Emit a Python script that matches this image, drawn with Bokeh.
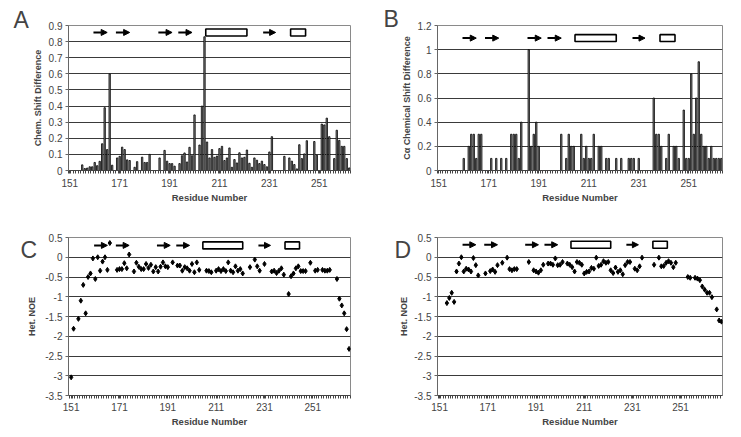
from bokeh.plotting import figure
from bokeh.models import Range1d, FixedTicker, Arrow, NormalHead, ColumnDataSource
from bokeh.layouts import gridplot
from bokeh.embed import file_html
from bokeh.resources import INLINE

# ---------------- data ----------------
x_ticks = [151, 171, 191, 211, 231, 251]
x_tick_labels = {151: "151", 171: "171", 191: "191", 211: "211", 231: "231", 251: "251"}

# Panel A: chemical shift difference (bars)
a_res = [156, 157, 158, 159, 160, 161, 162, 163, 164, 165, 166, 167, 168,
         170, 171, 172, 173, 174, 175, 177, 178, 180, 181, 182, 183,
         187, 189, 190, 191, 192, 193, 195, 196, 197, 198, 199, 200, 201,
         203, 204, 205, 206, 207, 208, 209, 210, 211, 212, 213, 214, 215,
         216, 217, 218, 219, 220, 221, 222, 223, 224, 225, 226, 227, 228,
         229, 230, 231, 232, 237, 239, 240, 241, 242, 243, 244, 245, 246,
         249, 250, 252, 253, 254, 255, 257, 258, 259, 260, 261, 262, 263]
a_val = [0.035, 0.012, 0.015, 0.023, 0.023, 0.05, 0.03, 0.057, 0.166, 0.39, 0.13, 0.6, 0.033,
         0.078, 0.088, 0.145, 0.13, 0.066, 0.062, 0.02, 0.055, 0.083, 0.05, 0.05, 0.1,
         0.078, 0.125, 0.058, 0.043, 0.043, 0.027, 0.043, 0.092, 0.109, 0.053, 0.144, 0.092, 0.345,
         0.158, 0.4, 0.83, 0.177, 0.078, 0.13, 0.082, 0.09, 0.136, 0.15, 0.062, 0.078, 0.14,
         0.02, 0.068, 0.047, 0.11, 0.078, 0.082, 0.127, 0.045, 0.02, 0.078, 0.064, 0.043, 0.058,
         0.037, 0.023, 0.115, 0.21, 0.088, 0.078, 0.058, 0.037, 0.01, 0.16, 0.074, 0.103, 0.185,
         0.18, 0.095, 0.288, 0.283, 0.325, 0.21, 0.074, 0.25, 0.187, 0.15, 0.15, 0.074, 0.016]

# Panel B: C-alpha chemical shift difference (bars)
b_res = [161, 163, 164, 165, 166, 167, 168, 172, 174, 176, 178, 180, 181, 182, 183, 184,
         187, 188, 189, 190, 191, 200, 202, 203, 204, 205, 208, 209, 210, 211, 212, 213,
         215, 216, 218, 219, 222, 224, 227, 228, 229, 231, 237, 238, 239, 240, 242, 243,
         245, 246, 247, 249, 250, 251, 252, 253, 254, 255, 256, 257, 258, 259, 260, 261,
         262, 263, 264]
b_val = [0.1, 0.2, 0.3, 0.3, 0.1, 0.3, 0.3, 0.1, 0.1, 0.1, 0.1, 0.3, 0.3, 0.3, 0.1, 0.4,
         1.0, 0.2, 0.3, 0.4, 0.2, 0.3, 0.1, 0.3, 0.2, 0.2, 0.3, 0.1, 0.2, 0.1, 0.1, 0.3,
         0.2, 0.2, 0.1, 0.1, 0.1, 0.1, 0.1, 0.1, 0.1, 0.1, 0.6, 0.3, 0.3, 0.2, 0.1, 0.3,
         0.2, 0.2, 0.1, 0.5, 0.1, 0.1, 0.8, 0.3, 0.6, 0.9, 0.3, 0.2, 0.2, 0.1, 0.2, 0.1,
         0.1, 0.1, 0.1]

# Panel C: heteronuclear NOE
c_res = [151, 152, 154, 155, 156, 157, 158, 159, 160, 161, 162, 163, 164, 165, 166, 167,
         170, 171, 172, 173, 174, 175, 177, 178, 179, 180, 181, 182, 183, 184, 185, 186,
         187, 188, 189, 190, 191, 193, 195, 196, 197, 198, 199, 200, 201, 202, 203, 204,
         207, 208, 209, 211, 212, 213, 214, 215, 216, 217, 218, 219, 220, 221, 222, 225,
         227, 228, 229, 231, 234, 235, 236, 237, 238, 239, 241, 242, 243, 244, 245, 246,
         247, 248, 250, 252, 253, 255, 256, 257, 258, 261, 262, 263, 264, 265, 266]
c_val = [-3.04, -1.81, -1.56, -1.10, -0.70, -1.42, -0.50, -0.41, -0.03, -0.55, 0.0, -0.34, -0.11, 0.0, -0.32, 0.36,
         -0.32, -0.30, -0.30, -0.15, -0.28, 0.07, -0.36, -0.14, -0.24, -0.30, -0.30, -0.17, -0.27, -0.19, -0.36, -0.25,
         -0.36, -0.24, -0.13, -0.23, -0.25, -0.13, -0.21, -0.21, -0.34, -0.25, -0.28, -0.34, -0.17, -0.38, -0.13, -0.32,
         -0.34, -0.35, -0.38, -0.34, -0.30, -0.35, -0.30, -0.35, -0.13, -0.34, -0.38, -0.23, -0.34, -0.30, -0.41, -0.25,
         -0.06, -0.23, -0.34, -0.17, -0.36, -0.34, -0.40, -0.34, -0.28, -0.44, -0.93, -0.48, -0.41, -0.28, -0.23, -0.35,
         -0.35, -0.35, -0.14, -0.34, -0.32, -0.32, -0.34, -0.34, -0.32, -0.55, -1.05, -1.22, -1.42, -1.82, -2.32]

# Panel D: heteronuclear NOE
d_res = [154, 155, 156, 157, 158, 159, 160, 161, 162, 163, 164, 165, 166, 167, 170, 172,
         173, 174, 175, 177, 179, 180, 181, 182, 183, 188, 190, 191, 192, 193, 194, 196,
         197, 198, 199, 200, 201, 202, 204, 205, 206, 207, 208, 209, 210, 211, 212, 213,
         214, 215, 216, 217, 218, 219, 220, 221, 222, 223, 224, 225, 226, 227, 228, 229,
         230, 232, 233, 234, 235, 240, 242, 243, 244, 245, 246, 247, 248, 249, 254, 255,
         257, 258, 259, 260, 261, 262, 263, 264, 266, 267, 268]
d_val = [-1.16, -1.03, -0.90, -1.13, -0.36, -0.16, 0.0, -0.36, -0.29, -0.31, -0.36, -0.02, -0.20, -0.46, -0.41, -0.35,
         -0.31, -0.37, -0.20, -0.14, -0.01, -0.30, -0.33, -0.30, -0.30, -0.12, -0.33, -0.36, -0.39, -0.33, -0.19, -0.16,
         -0.16, -0.19, -0.03, -0.20, -0.19, -0.12, -0.16, -0.19, -0.25, -0.36, -0.12, -0.14, -0.19, -0.41, -0.37, -0.36,
         -0.27, -0.29, -0.01, -0.22, -0.19, -0.10, -0.14, -0.12, -0.33, -0.40, -0.26, -0.37, -0.33, -0.43, -0.20, -0.12,
         -0.12, -0.29, -0.33, -0.23, -0.01, -0.19, -0.01, -0.23, -0.22, -0.14, -0.10, -0.14, -0.25, -0.14, -0.50, -0.52,
         -0.52, -0.54, -0.58, -0.74, -0.82, -0.90, -0.90, -1.01, -1.32, -1.60, -1.63]

# Secondary structure (residue numbers)
strand_start = [160.5, 169.5, 186.5, 194.5, 228.5]
strand_end = [166.0, 175.0, 192.0, 200.0, 233.5]
helix_start = [205.5, 239.5]
helix_end = [222.0, 245.5]

a_yticks = [0, 0.1, 0.2, 0.3, 0.4, 0.5, 0.6, 0.7, 0.8, 0.9]
a_ylabels = ["0", "0.1", "0.2", "0.3", "0.4", "0.5", "0.6", "0.7", "0.8", "0.9"]
b_yticks = [0, 0.2, 0.4, 0.6, 0.8, 1.0, 1.2]
b_ylabels = ["0", "0.2", "0.4", "0.6", "0.8", "1", "1.2"]
noe_yticks = [0.5, 0, -0.5, -1, -1.5, -2, -2.5, -3, -3.5]
noe_ylabels = ["0.5", "0", "-0.5", "-1", "-1.5", "-2", "-2.5", "-3", "-3.5"]

FONT = "Liberation Sans"


def panel(w, h, bl, br, bt, bb, xr, yr, yticks, ylabels, ylab, ylab_standoff,
          letter, letter_offset, letter_drop, ss_frac, xlabel_standoff=5):
    p = figure(width=w, height=h, x_range=Range1d(*xr), y_range=Range1d(*yr),
               output_backend="svg", toolbar_location=None, title=letter,
               min_border_left=bl, min_border_right=br,
               min_border_top=bt, min_border_bottom=bb)
    p.background_fill_color = "white"
    p.border_fill_color = "white"
    p.outline_line_color = "#8a8a8a"
    p.outline_line_width = 1
    p.xgrid.visible = False
    p.ygrid.grid_line_color = "#3a3a3a"
    p.ygrid.grid_line_width = 1

    # panel letter as the plot title, pushed to the left of the y axis
    p.title.align = "left"
    p.title.offset = letter_offset
    p.title.standoff = letter_drop
    p.title.vertical_align = "bottom"
    p.title.text_font = FONT
    p.title.text_font_style = "normal"
    p.title.text_font_size = "23px"
    p.title.text_line_height = 0.3

    # x axis
    xa = p.xaxis[0]
    xa.ticker = FixedTicker(ticks=x_ticks,
                            minor_ticks=[r + 0.5 for r in range(150, 270)])
    xa.major_label_overrides = x_tick_labels
    xa.major_tick_in = 0
    xa.major_tick_out = 3
    xa.minor_tick_in = 0
    xa.minor_tick_out = 3
    xa.axis_line_color = "#444444"
    xa.major_tick_line_color = "#444444"
    xa.minor_tick_line_color = "#444444"
    xa.major_label_text_font = FONT
    xa.major_label_text_font_size = "10px"
    xa.major_label_standoff = xlabel_standoff
    xa.axis_label = "Residue Number"
    xa.axis_label_text_font = FONT
    xa.axis_label_text_font_style = "bold"
    xa.axis_label_text_font_size = "9.5px"
    xa.axis_label_standoff = 2

    # y axis
    ya = p.yaxis[0]
    ya.ticker = FixedTicker(ticks=yticks)
    ya.major_label_overrides = {t: s for t, s in zip(yticks, ylabels)}
    ya.major_tick_in = 0
    ya.major_tick_out = 3
    ya.minor_tick_line_color = None
    ya.axis_line_color = "#666666"
    ya.major_tick_line_color = "#666666"
    ya.major_label_text_font = FONT
    ya.major_label_text_font_size = "10px"
    ya.major_label_standoff = 3
    ya.axis_label = ylab
    ya.axis_label_text_font = FONT
    ya.axis_label_text_font_style = "bold"
    ya.axis_label_text_font_size = "9px"
    ya.axis_label_standoff = ylab_standoff

    fh = h - bt - bb
    px_y = (yr[1] - yr[0]) / fh

    # secondary structure
    y_ss = yr[0] + ss_frac * (yr[1] - yr[0])
    arr_src = ColumnDataSource(dict(x0=strand_start, x1=strand_end,
                                    y0=[y_ss] * len(strand_start),
                                    y1=[y_ss] * len(strand_start)))
    p.add_layout(Arrow(end=NormalHead(size=6, fill_color="black", line_color="black"),
                       source=arr_src, x_start="x0", y_start="y0", x_end="x1", y_end="y1",
                       line_color="black", line_width=2))
    p.quad(left=helix_start, right=helix_end,
           bottom=[y_ss - 3.5 * px_y] * len(helix_start),
           top=[y_ss + 3.5 * px_y] * len(helix_start),
           fill_color="white", line_color="black", line_width=1.6)
    return p


pA = panel(370, 218, 68, 20, 25, 47, (150.5, 263.5), (0, 0.9), a_yticks, a_ylabels,
           "Chem. Shift Difference", 3, "A", -55, -14, 0.952)
pA.vbar(x=a_res, top=a_val, width=0.55, fill_color="#8c8c8c", line_color="black", line_width=0.8)

pB = panel(363, 218, 67, 11, 23, 48, (150.5, 264.5), (0, 1.2), b_yticks, b_ylabels,
           "C\u03b1 Chemical Shift Difference", 3, "B", -54, -12, 0.913)
pB.vbar(x=b_res, top=b_val, width=0.55, fill_color="#8c8c8c", line_color="black", line_width=0.8)

pC = panel(370, 211, 63, 15, 19, 34, (149.9, 266.6), (-3.5, 0.5), noe_yticks, noe_ylabels,
           "Het. NOE", 5, "C", -48, -51, 0.95, xlabel_standoff=4)
pC.scatter(x=c_res, y=c_val, marker="diamond", size=5, color="black")

pD = panel(363, 211, 56, 5, 19, 34, (150.1, 268.4), (-3.5, 0.5), noe_yticks, noe_ylabels,
           "Het. NOE", 2, "D", -43, -51, 0.954, xlabel_standoff=4)
pD.scatter(x=d_res, y=d_val, marker="diamond", size=5, color="black")

grid = gridplot([[pA, pB], [pC, pD]], toolbar_location=None)

open("out.html", "w").write(file_html(grid, INLINE))
